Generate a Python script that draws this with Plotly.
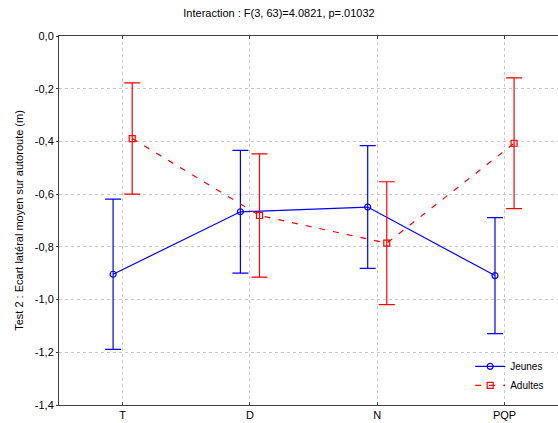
import plotly.graph_objects as go

categories = ["T", "D", "N", "PQP"]
jeunes_mean = [-0.904, -0.667, -0.649, -0.909]
jeunes_err = [0.285, 0.233, 0.233, 0.220]
adultes_mean = [-0.389, -0.681, -0.786, -0.407]
adultes_err = [0.211, 0.234, 0.233, 0.248]
ytick_vals = [0.0, -0.2, -0.4, -0.6, -0.8, -1.0, -1.2, -1.4]
ytick_text = ["0,0", "-0,2", "-0,4", "-0,6", "-0,8", "-1,0", "-1,2", "-1,4"]

xpos = list(range(len(categories)))
OFF = 0.075

fig = go.Figure()
fig.add_trace(go.Scatter(
    x=[p - OFF for p in xpos], y=jeunes_mean, name="Jeunes",
    mode="lines+markers",
    line=dict(color="#0000ff", width=1.2),
    marker=dict(symbol="circle-open", size=6, color="#0000ff", line=dict(width=1.2)),
    error_y=dict(type="data", array=jeunes_err, color="#0000ff", thickness=1.2, width=8),
))
fig.add_trace(go.Scatter(
    x=[p + OFF for p in xpos], y=adultes_mean, name="Adultes",
    mode="lines+markers",
    line=dict(color="#ff0000", width=1.2, dash="6px,8px"),
    marker=dict(symbol="square-open", size=6, color="#ff0000", line=dict(width=1.2)),
    error_y=dict(type="data", array=adultes_err, color="#ff0000", thickness=1.2, width=8),
))

fig.update_layout(
    width=558, height=423,
    margin=dict(l=59, r=0, t=36, b=18),
    paper_bgcolor="white", plot_bgcolor="white",
    font=dict(family="Liberation Sans, Arial", size=11, color="black"),
    title=dict(text="Interaction : F(3, 63)=4.0821, p=.01032", x=0.5, xanchor="center",
               y=0.979, yanchor="top", font=dict(size=11)),
    showlegend=True,
    legend=dict(x=0.824, y=0.079, xanchor="left", yanchor="middle",
                bgcolor="rgba(0,0,0,0)", font=dict(size=10),
                tracegroupgap=0, itemwidth=30),
)
fig.update_xaxes(
    range=[-0.5, 3.42], tickvals=xpos, ticktext=categories,
    showgrid=True, gridcolor="#c8c8c8", griddash="dot", gridwidth=1,
    showline=True, linecolor="#404040", linewidth=1, mirror="ticks",
    ticks="inside", ticklen=3, tickcolor="#404040", zeroline=False,
)
fig.update_yaxes(
    range=[-1.4, 0.0], tickvals=ytick_vals, ticktext=ytick_text,
    showgrid=True, gridcolor="#c8c8c8", griddash="dot", gridwidth=1,
    showline=True, linecolor="#404040", linewidth=1, mirror=False,
    ticks="outside", ticklen=2, tickcolor="#404040", zeroline=False,
    title=dict(text="Test 2 : Ecart latéral moyen sur autoroute (m)", font=dict(size=11), standoff=8),
)

fig.write_html("out.html",
               config={"displayModeBar": False},
               post_script="document.body.style.margin='0';document.body.style.overflow='hidden';")
